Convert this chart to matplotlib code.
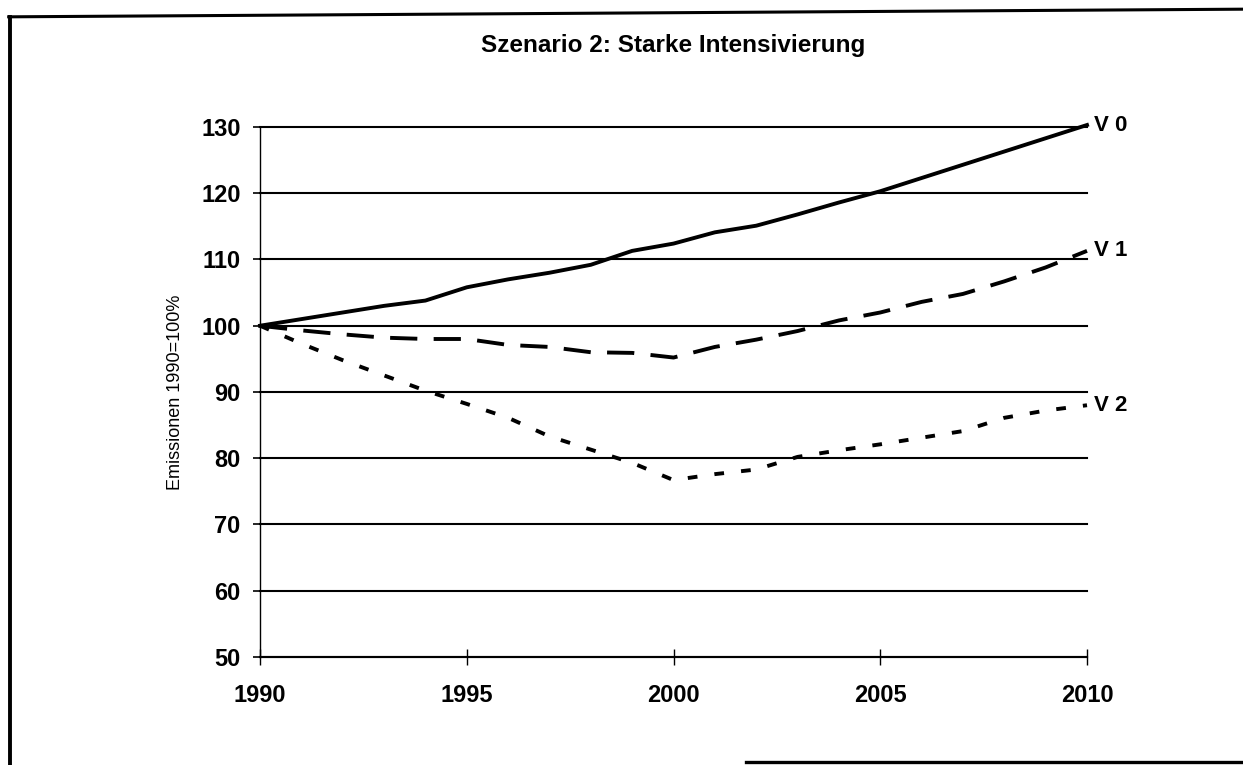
import matplotlib
matplotlib.use("Agg")
import matplotlib.pyplot as plt
from matplotlib.lines import Line2D

years = list(range(1990, 2011))
v0 = [100, 101, 102, 103, 103.8, 105.8, 107, 108, 109.2, 111.3, 112.4,
      114.1, 115.1, 116.8, 118.6, 120.3, 122.3, 124.3, 126.3, 128.3, 130.3]
v1 = [100, 99.3, 98.7, 98.2, 98.0, 98.0, 97.1, 96.8, 96.0, 95.9, 95.2,
      96.8, 97.9, 99.2, 100.8, 102.0, 103.6, 104.8, 106.7, 108.8, 111.3]
v2 = [100, 97.3, 94.8, 92.5, 90.2, 88.2, 86.1, 83.3, 81.3, 79.3, 76.7,
      77.6, 78.3, 80.2, 81.2, 82.1, 83.1, 84.1, 86.1, 87.2, 88.0]
series_names = ["V 0", "V 1", "V 2"]
yticks = list(range(50, 131, 10))
xticks = [1990, 1995, 2000, 2005, 2010]

plt.rcParams['font.family'] = ['Liberation Sans', 'DejaVu Sans']

fig = plt.figure(figsize=(12.43, 7.65), dpi=100)
ax = fig.add_axes([0.2092, 0.1412, 0.8745 - 0.2092, 0.834 - 0.1412])

styles = [dict(linestyle='-'),
          dict(dashes=(7.0, 4.2)),
          dict(dashes=(2.5, 4.4))]
for vals, name, st in zip([v0, v1, v2], series_names, styles):
    ax.plot(years, vals, color='black', lw=2.8, clip_on=False, **st)
    ax.annotate(name, xy=(years[-1], vals[-1]), xytext=(5, 0),
                textcoords='offset points', va='center', ha='left',
                fontsize=16, fontweight='bold', annotation_clip=False)

ax.set_xlim(1990, 2010)
ax.set_ylim(50, 130)
ax.set_yticks(yticks)
ax.set_xticks(xticks)
ax.grid(axis='y', color='black', lw=1.5)
ax.grid(axis='x', visible=False)
for gl in ax.get_ygridlines():
    gl.set_clip_on(False)
ax.set_axisbelow(True)

for s in ['top', 'right']:
    ax.spines[s].set_visible(False)
ax.spines['left'].set_linewidth(1.0)
ax.spines['bottom'].set_linewidth(1.5)

ax.tick_params(axis='y', direction='out', length=5, width=1.2, pad=9,
               labelsize=17)
ax.tick_params(axis='x', direction='inout', length=11, width=1.0, pad=14,
               labelsize=17)
for lab in ax.get_xticklabels() + ax.get_yticklabels():
    lab.set_fontweight('bold')

ax.set_ylabel("Emissionen 1990=100%", fontsize=13, labelpad=12)

fig.text(0.5414, 0.941, "Szenario 2: Starke Intensivierung", ha='center',
         va='center', fontsize=17.5, fontweight='bold')

# page frame of the scanned figure
fig.add_artist(Line2D([0.007, 1.0], [0.978, 0.988], color='black', lw=2.2,
                      transform=fig.transFigure))
fig.add_artist(Line2D([0.008, 0.008], [0.0, 0.978], color='black', lw=2.8,
                      transform=fig.transFigure))
fig.add_artist(Line2D([0.6, 1.0], [0.004, 0.004], color='black', lw=2.4,
                      transform=fig.transFigure))

fig.savefig("out.png", dpi=100)
